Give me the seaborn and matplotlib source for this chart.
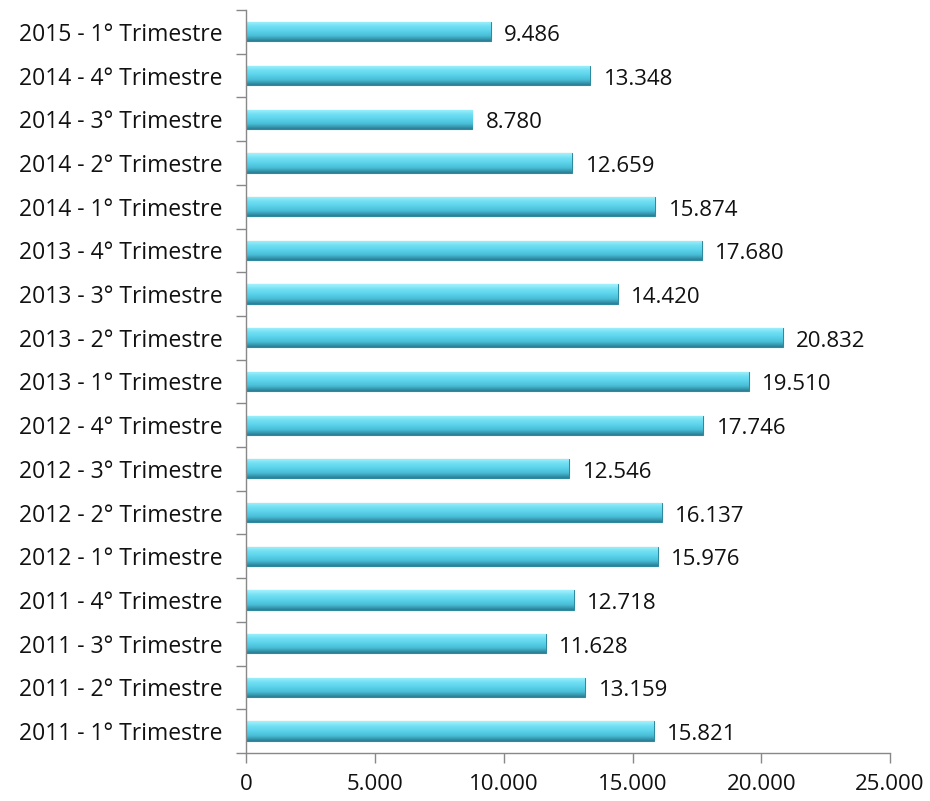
import numpy as np
import pandas as pd
import seaborn as sns
import matplotlib.pyplot as plt
from matplotlib.colors import LinearSegmentedColormap
from matplotlib.ticker import FuncFormatter

periods = [
    "2015 - 1° Trimestre", "2014 - 4° Trimestre", "2014 - 3° Trimestre", "2014 - 2° Trimestre",
    "2014 - 1° Trimestre", "2013 - 4° Trimestre", "2013 - 3° Trimestre", "2013 - 2° Trimestre",
    "2013 - 1° Trimestre", "2012 - 4° Trimestre", "2012 - 3° Trimestre", "2012 - 2° Trimestre",
    "2012 - 1° Trimestre", "2011 - 4° Trimestre", "2011 - 3° Trimestre", "2011 - 2° Trimestre",
    "2011 - 1° Trimestre",
]
values = [9486, 13348, 8780, 12659, 15874, 17680, 14420, 20832, 19510,
          17746, 12546, 16137, 15976, 12718, 11628, 13159, 15821]
x_ticks = [0, 5000, 10000, 15000, 20000, 25000]

df = pd.DataFrame({"Periodo": periods, "Valore": values})

sns.set_style("ticks")
plt.rcParams["font.family"] = ["Open Sans", "DejaVu Sans"]

fig = plt.figure(figsize=(9.3, 8.01), dpi=100)
ax = fig.add_axes([0.265, 0.06, 0.692, 0.9275])

sns.barplot(data=df, x="Valore", y="Periodo", order=periods, color="#5ad2ea",
            width=0.44, edgecolor="#2f8aa0", linewidth=0.8, ax=ax)

# gradient shading to mimic the bevelled bars
cmap = LinearSegmentedColormap.from_list(
    "bev", ["#a4f2fd", "#72e0f3", "#5ad2ea", "#48bdd6", "#2a7d93"])
grad = np.linspace(0, 1, 64).reshape(-1, 1)
for p in ax.patches:
    x0, y0 = p.get_x(), p.get_y()
    w, h = p.get_width(), p.get_height()
    im = ax.imshow(grad, cmap=cmap, aspect="auto", extent=[x0, x0 + w, y0 + h, y0],
                   zorder=p.get_zorder() + 0.1, interpolation="bicubic")
    im.set_clip_path(p)

for i, v in enumerate(values):
    ax.text(v + 520, i + 0.08, f"{v:,}".replace(",", "."), va="center", ha="left",
            fontsize=16, color="#111111")

ax.set_xlim(0, 25000)
ax.set_ylim(len(periods) - 0.5, -0.5)
ax.set_xticks(x_ticks)
ax.xaxis.set_major_formatter(FuncFormatter(lambda v, _: f"{int(v):,}".replace(",", ".")))
ax.set_yticks(np.arange(len(periods) + 1) - 0.5, minor=True)
ax.tick_params(axis="y", which="major", left=True, length=0, labelsize=16.5, pad=17,
               labelcolor="#111111")
ax.tick_params(axis="y", which="minor", left=True, length=7, color="#888888",
               direction="out", width=1)
ax.tick_params(axis="x", which="major", bottom=True, length=7, color="#888888",
               direction="out", width=1, labelsize=16, pad=8, labelcolor="#111111")
ax.set_xlabel("")
ax.set_ylabel("")
for s in ["top", "right"]:
    ax.spines[s].set_visible(False)
for s in ["left", "bottom"]:
    ax.spines[s].set_color("#888888")
    ax.spines[s].set_linewidth(1)

fig.savefig("out.png", dpi=100)
